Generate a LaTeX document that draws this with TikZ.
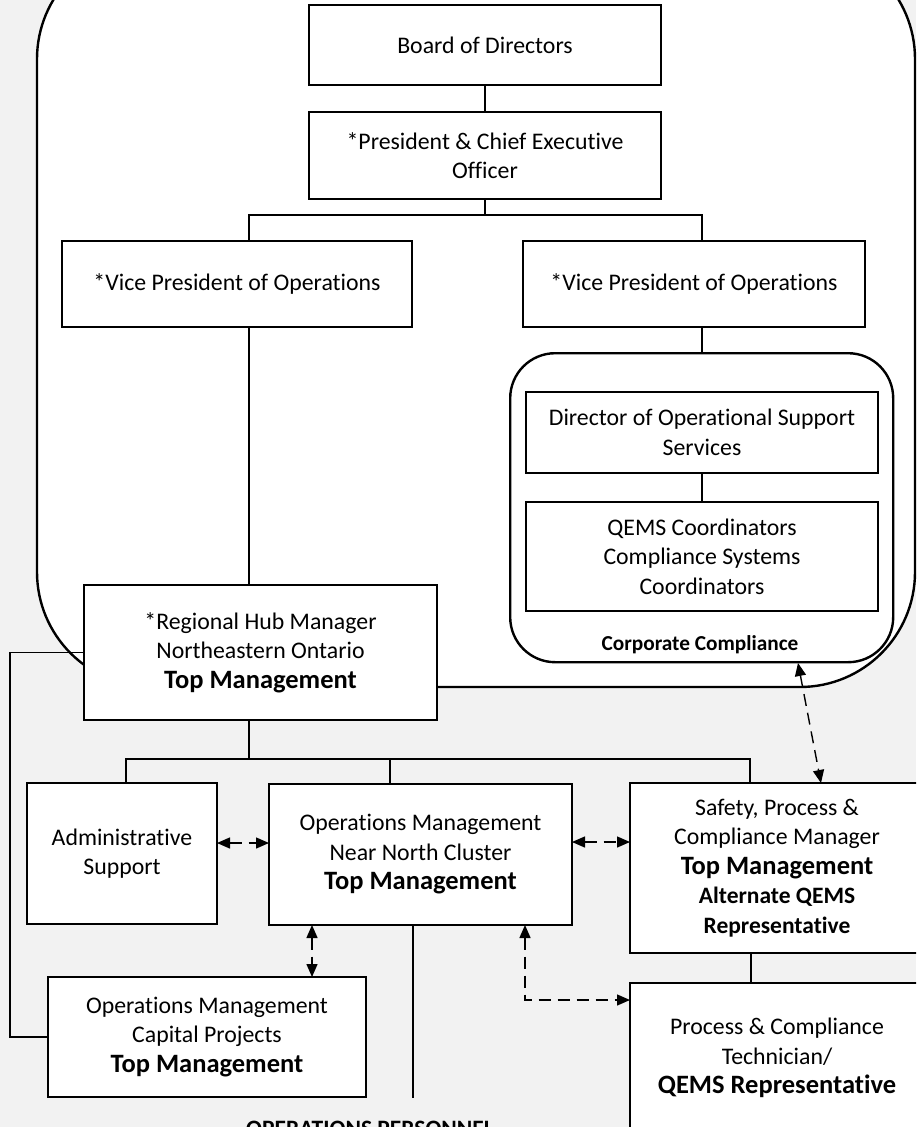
\documentclass[tikz,border=0pt]{standalone}
\usepackage{fontspec}
\setmainfont{Carlito}[Ligatures=NoCommon]
\usetikzlibrary{arrows.meta}
\definecolor{bggray}{HTML}{F2F2F2}
\newcommand\bigbold[1]{{\fontsize{26.5}{30}\selectfont\bfseries #1}}
\newcommand\midbold[1]{{\fontsize{23.5}{30}\selectfont\bfseries #1}}
\begin{document}
\begin{tikzpicture}[x=1pt,y=-1pt,
  box/.style={draw, line width=1.6pt, fill=white, align=center, inner sep=0pt, outer sep=0pt, anchor=north west,
    font=\fontsize{23.8}{29.5}\selectfont},
  region/.style={draw, line width=2.4pt, fill=white},
  conn/.style={line width=1.4pt},
  tip/.tip={Triangle[length=13pt,width=11pt]},
  dasharrow/.style={line width=1.4pt, dash pattern=on 12pt off 7pt, tip-tip},
  lab/.style={font=\fontsize{21.3}{24}\selectfont\bfseries},
]
\useasboundingbox (0,0) rectangle (916,1127);
\clip (0,0) rectangle (916,1127);
\fill[bggray] (0,0) rectangle (916,1127);

% big white region
\draw[region, rounded corners=115pt] (37,-56) rectangle (915,687);

% corporate compliance group
\node[region, rounded corners=45pt, minimum width=383pt, minimum height=309pt, anchor=north west, inner sep=0pt] (cc) at (509,352) {};
\node[lab, anchor=base] (cclab) at (700,650) {Corporate Compliance};

% boxes
\node[box, minimum width=352pt, minimum height=80pt] (board) at (309,5) {Board of Directors};
\node[box, minimum width=352pt, minimum height=87pt] (pres) at (309,112) {*President \& Chief Executive\\Officer};
\node[box, minimum width=350pt, minimum height=86pt] (vp1) at (62,241) {*Vice President of Operations};
\node[box, minimum width=342pt, minimum height=86pt] (vp2) at (523,241) {*Vice President of Operations};
\node[box, minimum width=352pt, minimum height=81pt] (dir) at (526,392) {Director of Operational Support\\Services};
\node[box, minimum width=352pt, minimum height=109pt] (qems) at (526,502) {QEMS Coordinators\\Compliance Systems\\Coordinators};
\node[box, minimum width=353pt, minimum height=135pt] (hub) at (84,585) {*Regional Hub Manager\\Northeastern Ontario\\\bigbold{Top Management}};
\node[box, minimum width=190pt, minimum height=141pt] (admin) at (27,783) {Administrative\\Support};
\node[box, minimum width=303pt, minimum height=141pt] (ops) at (269,784) {Operations Management\\Near North Cluster\\\bigbold{Top Management}};
\node[box, minimum width=294pt, minimum height=170pt] (safety) at (630,783) {Safety, Process \&\\Compliance Manager\\\bigbold{Top Management}\\\midbold{Alternate QEMS}\\\midbold{Representative}};
\node[box, minimum width=294pt, minimum height=150pt] (proc) at (630,983) {Process \& Compliance\\Technician/\\\bigbold{QEMS Representative}};
\node[box, minimum width=318pt, minimum height=120pt] (cap) at (48,977) {Operations Management\\Capital Projects\\\bigbold{Top Management}};
\node[lab, font=\fontsize{23.5}{26}\selectfont\bfseries, anchor=base] (opsp) at (370,1136) {OPERATIONS PERSONNEL};

% helper coordinates
\coordinate (busA) at (249,215);
\coordinate (busB) at (702,215);
\coordinate (bus2) at (249,759);
\coordinate (adx) at (126,759);
\coordinate (opx) at (390,759);
\coordinate (sfx) at (750,759);
\coordinate (leftx) at (10,0);
\coordinate (vline) at (413,0);
\coordinate (vend) at (413,1098);
\coordinate (spx) at (751,0);
\coordinate (ccA) at (798,663);
\coordinate (sfA) at (821,783);
\coordinate (a1) at (217,843);
\coordinate (a2) at (572,842);
\coordinate (a3) at (312,925);
\coordinate (a4) at (525,925);
\coordinate (a4b) at (525,1000);

% solid connectors
\draw[conn] (board.south) -- (pres.north);
\draw[conn] (pres.south) |- (busA) -- (busA |- vp1.north);
\draw[conn] (pres.south) |- (busB) -- (busB |- vp2.north);
\draw[conn] (busA |- vp1.south) -- (busA |- hub.north);
\draw[conn] (busB |- vp2.south) -- (busB |- cc.north);
\draw[conn] (busB |- dir.south) -- (busB |- qems.north);
\draw[conn] (bus2 |- hub.south) -- (bus2);
\draw[conn] (adx |- admin.north) -- (adx) -- (sfx) -- (sfx |- safety.north);
\draw[conn] (opx) -- (opx |- ops.north);
\draw[conn] (hub.west) -- (leftx |- hub.west) -- (leftx |- cap.west) -- (cap.west);
\draw[conn] (spx |- safety.south) -- (spx |- proc.north);
\draw[conn] (vline |- ops.south) -- (vend);

% dashed arrows
\draw[dasharrow] (ccA) -- (sfA);
\draw[dasharrow] (a1) -- (a1 -| ops.west);
\draw[dasharrow] (a2) -- (a2 -| safety.west);
\draw[dasharrow] (a3) -- (a3 |- cap.north);
\draw[dasharrow] (a4) -- (a4b) -- (a4b -| proc.west);
\end{tikzpicture}
\end{document}
